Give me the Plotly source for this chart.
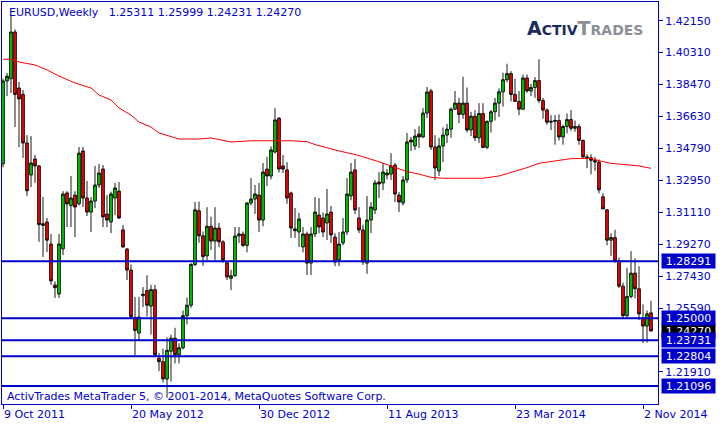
import pandas as pd
import plotly.graph_objects as go

# ---------------- data ----------------
opens = [1.3390,1.3868,1.3880,1.4150,1.3827,1.3790,1.3510,1.3326,1.3418,1.3378,
1.3035,1.3055,1.2928,1.2692,1.2640,1.2900,1.3222,1.3150,1.3210,1.3160,
1.3464,1.3193,1.3112,1.3176,1.3268,1.3360,1.3101,1.3055,1.3193,1.3233,
1.3009,1.2899,1.2778,1.2505,1.2415,1.2630,1.2660,1.2570,1.2665,1.2270,
1.2250,1.2150,1.2310,1.2385,1.2290,1.2330,1.2515,1.2575,1.2810,1.3120,
1.2975,1.2860,1.3030,1.2945,1.3020,1.2940,1.2820,1.2730,1.2745,1.2975,
1.2985,1.2920,1.3164,1.3187,1.3210,1.3066,1.3360,1.3320,1.3458,1.3653,
1.3378,1.3355,1.3222,1.3015,1.2997,1.2911,1.2986,1.2818,1.2986,1.3095,
1.3078,1.3049,1.3112,1.2968,1.2836,1.2934,1.2997,1.3205,1.3355,1.3078,
1.3009,1.2818,1.3066,1.3124,1.3285,1.3280,1.3326,1.3331,1.3383,1.3210,
1.3164,1.3297,1.3527,1.3493,1.3562,1.3545,1.3683,1.3810,1.3487,1.3349,
1.3493,1.3556,1.3590,1.3705,1.3740,1.3675,1.3740,1.3585,1.3665,1.3540,
1.3680,1.3485,1.3635,1.3690,1.3740,1.3805,1.3875,1.3910,1.3790,1.3750,
1.3705,1.3885,1.3810,1.3830,1.3870,1.3755,1.3700,1.3630,1.3635,1.3640,
1.3545,1.3605,1.3645,1.3595,1.3605,1.3525,1.3430,1.3425,1.3410,1.3400,
1.3200,1.3125,1.2950,1.2965,1.2830,1.2685,1.2515,1.2625,1.2760,1.2670,
1.2500,1.2455,1.25311]
highs = [1.3880,1.3914,1.4248,1.4165,1.3862,1.3816,1.3556,1.3550,1.3441,1.3383,
1.3199,1.3078,1.2986,1.2712,1.2986,1.3233,1.3233,1.3320,1.3233,1.3487,
1.3487,1.3291,1.3199,1.3378,1.3389,1.3383,1.3210,1.3230,1.3280,1.3285,
1.3037,1.2905,1.2810,1.2623,1.2623,1.2680,1.2748,1.2692,1.2692,1.2300,
1.2325,1.2390,1.2405,1.2445,1.2355,1.2545,1.2620,1.2818,1.3170,1.3172,
1.3000,1.3140,1.3085,1.3140,1.3050,1.2950,1.2826,1.2780,1.3026,1.3026,
1.3000,1.3170,1.3308,1.3268,1.3280,1.3395,1.3430,1.3490,1.3711,1.3660,
1.3441,1.3400,1.3230,1.3135,1.3107,1.3026,1.3000,1.3026,1.3199,1.3193,
1.3110,1.3245,1.3147,1.2990,1.2997,1.3078,1.3308,1.3395,1.3418,1.3141,
1.3040,1.3205,1.3170,1.3297,1.3343,1.3395,1.3360,1.3452,1.3395,1.3228,
1.3320,1.3568,1.3545,1.3590,1.3608,1.3711,1.3833,1.3822,1.3556,1.3540,
1.3600,1.3620,1.3715,1.3810,1.3770,1.3892,1.3830,1.3690,1.3700,1.3740,
1.3740,1.3640,1.3700,1.3770,1.3825,1.3915,1.3967,1.3925,1.3880,1.3810,
1.3905,1.3905,1.3850,1.3890,1.3993,1.3770,1.3710,1.3670,1.3670,1.3675,
1.3615,1.3680,1.3700,1.3640,1.3620,1.3530,1.3445,1.3445,1.3430,1.3415,
1.3220,1.3130,1.2990,1.3010,1.2850,1.2705,1.2791,1.2887,1.2845,1.2800,
1.2580,1.2545,1.25999]
lows = [1.3370,1.3780,1.3798,1.3602,1.3487,1.3424,1.3205,1.3256,1.3280,1.2940,
1.2853,1.2882,1.2692,1.2617,1.2617,1.2864,1.3026,1.3026,1.2968,1.3150,
1.3141,1.3089,1.2997,1.3135,1.3250,1.3026,1.3026,1.2991,1.3095,1.3072,
1.2905,1.2720,1.2495,1.2288,1.2374,1.2565,1.2510,1.2406,1.2285,1.2195,
1.2130,1.2042,1.2135,1.2240,1.2240,1.2320,1.2465,1.2560,1.2800,1.2935,
1.2802,1.2835,1.2893,1.2836,1.2910,1.2820,1.2720,1.2662,1.2740,1.2934,
1.2911,1.2880,1.3150,1.3101,1.2997,1.3030,1.3262,1.3300,1.3450,1.3340,
1.3337,1.3160,1.2963,1.2963,1.2911,1.2880,1.2749,1.2749,1.2968,1.2990,
1.2968,1.2951,1.2934,1.2800,1.2800,1.2920,1.2980,1.3180,1.3100,1.2991,
1.2807,1.2756,1.2991,1.3100,1.3193,1.3239,1.3300,1.3297,1.3170,1.3112,
1.3150,1.3280,1.3464,1.3470,1.3481,1.3540,1.3654,1.3470,1.3297,1.3320,
1.3400,1.3510,1.3540,1.3700,1.3625,1.3650,1.3570,1.3550,1.3520,1.3510,
1.3480,1.3475,1.3570,1.3640,1.3660,1.3720,1.3860,1.3750,1.3750,1.3670,
1.3700,1.3800,1.3780,1.3770,1.3740,1.3650,1.3615,1.3585,1.3500,1.3525,
1.3500,1.3565,1.3580,1.3575,1.3500,1.3420,1.3365,1.3330,1.3350,1.3220,
1.3130,1.2920,1.2860,1.2820,1.2675,1.2500,1.2500,1.2615,1.2615,1.2490,
1.2357,1.2360,1.24231]
closes = [1.3868,1.3895,1.4150,1.3790,1.3764,1.3510,1.3235,1.3395,1.3378,1.3040,
1.3045,1.2950,1.2715,1.2676,1.2928,1.3216,1.3159,1.3193,1.3141,1.3452,
1.3193,1.3112,1.3176,1.3268,1.3337,1.3084,1.3066,1.3216,1.3251,1.3078,
1.2911,1.2778,1.2510,1.2430,1.2507,1.2638,1.2575,1.2665,1.2290,1.2250,
1.2150,1.2315,1.2385,1.2290,1.2330,1.2515,1.2575,1.2810,1.3125,1.2975,
1.2855,1.3030,1.2945,1.3020,1.2940,1.2836,1.2738,1.2745,1.2974,1.2986,
1.2920,1.3164,1.3187,1.3216,1.3066,1.3343,1.3320,1.3470,1.3643,1.3360,
1.3360,1.3193,1.3020,1.3005,1.3072,1.2986,1.2818,1.2986,1.3112,1.3026,
1.2997,1.3101,1.2980,1.2824,1.2928,1.2997,1.3216,1.3343,1.3124,1.3009,
1.2824,1.3066,1.3141,1.3280,1.3274,1.3343,1.3337,1.3378,1.3216,1.3170,
1.3297,1.3516,1.3516,1.3550,1.3545,1.3683,1.3804,1.3487,1.3366,1.3493,
1.3556,1.3590,1.3705,1.3740,1.3675,1.3740,1.3585,1.3665,1.3540,1.3680,
1.3485,1.3635,1.3690,1.3740,1.3805,1.3875,1.3910,1.3790,1.3750,1.3705,
1.3885,1.3810,1.3830,1.3870,1.3755,1.3700,1.3630,1.3635,1.3640,1.3545,
1.3605,1.3645,1.3595,1.3605,1.3525,1.3430,1.3425,1.3410,1.3400,1.3240,
1.3130,1.2950,1.2965,1.2830,1.2685,1.2515,1.2625,1.2760,1.2670,1.2525,
1.2455,1.2525,1.24270]

# moving average (read at selected bars)
ma_bar = [0,2,4,8,11,14,18,22,24,27,29,32,34,37,39,42,44,49,52,54,57,62,67,72,76,78,
          83,89,94,97,101,104,107,110,115,120,124,127,131,134,139,142,147,149,152,156,159,162]
ma_val = [1.3993,1.3993,1.3977,1.3960,1.3931,1.3896,1.3856,1.3827,1.3787,1.3758,1.3712,
          1.3671,1.3631,1.3602,1.3568,1.3545,1.3533,1.3533,1.3539,1.3530,1.3516,1.3523,
          1.3523,1.3523,1.3518,1.3501,1.3470,1.3438,1.3402,1.3378,1.3345,1.3331,1.3312,
          1.3307,1.3307,1.3307,1.3320,1.3339,1.3368,1.3393,1.3412,1.3420,1.3422,1.3408,
          1.3393,1.3383,1.3378,1.3364]

level_lines = [1.28291, 1.25000, 1.23731, 1.22804, 1.21096]
last_price = 1.24270
y_ticks = [1.21910, 1.25590, 1.27430, 1.29270, 1.31110, 1.32950, 1.34790, 1.36630, 1.38470, 1.40310, 1.42150]
x_tick_bars = [0, 32, 64, 96, 128, 160]
x_tick_text = ["9 Oct 2011", "20 May 2012", "30 Dec 2012", "11 Aug 2013", "23 Mar 2014", "2 Nov 2014"]
header = "EURUSD,Weekly\u00a0\u00a0 1.25311 1.25999 1.24231 1.24270"
footer = "ActivTrades MetaTrader 5, \u00a9 2001-2014, MetaQuotes Software Corp."

# ---------------- figure ----------------
BLUE = "rgb(0,0,205)"
FONT = "DejaVu Sans"
weeks = pd.date_range("2011-10-09", periods=len(closes), freq="7D")
week = pd.Timedelta(days=7)

fig = go.Figure()
fig.add_trace(go.Candlestick(
    x=weeks, open=opens, high=highs, low=lows, close=closes,
    increasing=dict(line=dict(color="black", width=0.9), fillcolor="#00d200"),
    decreasing=dict(line=dict(color="black", width=0.9), fillcolor="#ff0000"),
    whiskerwidth=0, hoverinfo="skip", showlegend=False))
fig.add_trace(go.Scatter(
    x=[weeks[i] for i in ma_bar], y=ma_val, mode="lines",
    line=dict(color="#ff0000", width=1), hoverinfo="skip", showlegend=False))

for lv in level_lines:
    fig.add_shape(type="line", xref="paper", x0=0, x1=1, yref="y", y0=lv, y1=lv,
                  line=dict(color=BLUE, width=2))

def price_label(val, bg):
    fig.add_annotation(xref="paper", x=1, xshift=3, xanchor="left", yref="y", y=val,
                       text=f"{val:.5f}", showarrow=False, bgcolor=bg, width=51, height=12,
                       borderpad=1, align="center",
                       font=dict(family=FONT, size=11, color="white"))

price_label(last_price, "black")
for lv in level_lines:
    price_label(lv, BLUE)

fig.add_annotation(xref="paper", yref="paper", x=0, xshift=5, y=1, yshift=-10,
                   xanchor="left", yanchor="middle", text=header, showarrow=False,
                   font=dict(family=FONT, size=11, color=BLUE))
fig.add_annotation(xref="paper", yref="paper", x=0, xshift=3, y=0, yshift=8,
                   xanchor="left", yanchor="middle", text=footer, showarrow=False,
                   font=dict(family=FONT, size=11, color=BLUE))
logo = ('<b><span style="color:#1c2b5e"><span style="font-size:19px">A</span>CTIV</span>'
        '<span style="color:#8c9096"><span style="font-size:19px">T</span>RADES</span></b>')
fig.add_annotation(xref="paper", yref="paper", x=0.7965, y=0.935, xanchor="left",
                   yanchor="middle", text=logo, showarrow=False,
                   font=dict(family=FONT, size=14))

fig.update_layout(
    width=728, height=428, margin=dict(l=2, r=70, t=2, b=24, autoexpand=False),
    paper_bgcolor="white", plot_bgcolor="white", showlegend=False,
    boxgap=0, boxgroupgap=0.32,
    xaxis=dict(type="date", range=[weeks[0] - 0.25 * week, weeks[0] + 163.75 * week],
               rangeslider=dict(visible=False), showgrid=False, zeroline=False,
               showline=True, linecolor=BLUE, linewidth=1, mirror=True,
               ticks="outside", ticklen=4, tickcolor=BLUE,
               tickvals=[weeks[i] for i in x_tick_bars], ticktext=x_tick_text,
               ticklabelposition="outside right",
               tickfont=dict(family=FONT, size=11, color=BLUE)),
    yaxis=dict(side="right", range=[1.20058, 1.43228], showgrid=False, zeroline=False,
               showline=True, linecolor=BLUE, linewidth=1, mirror=True,
               ticks="outside", ticklen=4, tickcolor=BLUE,
               tickvals=y_ticks, ticktext=[f"{v:.5f}" for v in y_ticks],
               tickfont=dict(family=FONT, size=11, color=BLUE)),
)

fig.write_html("out.html", config=dict(displayModeBar=False),
               post_script="document.body.style.margin='0';document.body.style.overflow='hidden';")
